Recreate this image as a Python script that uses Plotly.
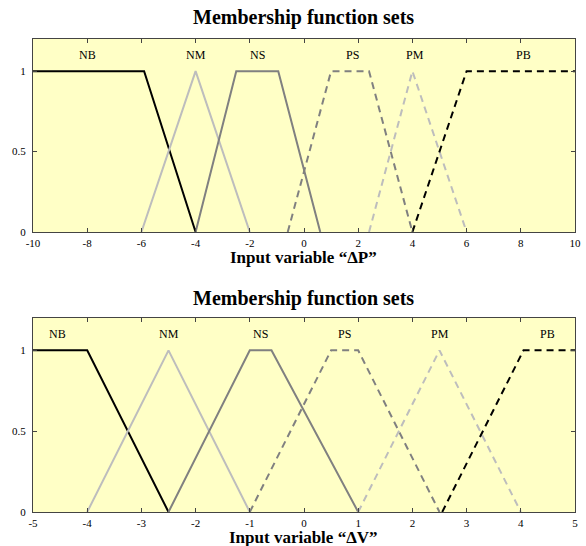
import plotly.graph_objects as go

# Membership functions for input "ΔP" (breakpoints of each set)
dp_names = ["NB", "NM", "NS", "PS", "PM", "PB"]
dp_x = [
    [-10, -5.9, -4],
    [-6, -4, -2],
    [-4, -2.5, -0.95, 0.6],
    [-0.6, 1, 2.4, 4],
    [2.4, 4, 6],
    [4, 6, 10],
]
dp_y = [
    [1, 1, 0],
    [0, 1, 0],
    [0, 1, 1, 0],
    [0, 1, 1, 0],
    [0, 1, 0],
    [0, 1, 1],
]
dp_label_x = [-8, -4, -1.7, 1.8, 4.1, 8.1]

# Membership functions for input "ΔV"
dv_names = ["NB", "NM", "NS", "PS", "PM", "PB"]
dv_x = [
    [-5, -4, -2.5],
    [-4, -2.5, -1],
    [-2.5, -1, -0.6, 1],
    [-1, 0.5, 1, 2.5],
    [1, 2.5, 4],
    [2.55, 4.05, 5],
]
dv_y = [
    [1, 1, 0],
    [0, 1, 0],
    [0, 1, 1, 0],
    [0, 1, 1, 0],
    [0, 1, 0],
    [0, 1, 1],
]
dv_label_x = [-4.55, -2.5, -0.8, 0.75, 2.5, 4.5]

label_y = 1.1
y_ticks = [0, 0.5, 1]
y_ticktext = ["0", "0.5", "1"]
dp_ticks = list(range(-10, 11, 2))
dp_ticktext = [str(v) for v in dp_ticks]
dv_ticks = list(range(-5, 6, 1))
dv_ticktext = [str(v) for v in dv_ticks]

styles = [
    dict(color="#000000", dash="solid"),
    dict(color="#bdbdbd", dash="solid"),
    dict(color="#808080", dash="solid"),
    dict(color="#808080", dash="7px,5px"),
    dict(color="#bdbdbd", dash="7px,5px"),
    dict(color="#000000", dash="7px,5px"),
]

SERIF = "Liberation Serif, Times New Roman, serif"
W, H = 586, 546

fig = go.Figure()

for i in range(6):
    fig.add_trace(go.Scatter(x=dp_x[i], y=dp_y[i], mode="lines",
                             line=dict(width=2, **styles[i]),
                             xaxis="x", yaxis="y", showlegend=False,
                             name=dp_names[i]))
    fig.add_trace(go.Scatter(x=dv_x[i], y=dv_y[i], mode="lines",
                             line=dict(width=2, **styles[i]),
                             xaxis="x2", yaxis="y2", showlegend=False,
                             name=dv_names[i]))

# Pixel geometry of the two plot areas
left, right = 33, 575
top1, bot1 = 39, 232
top2, bot2 = 318, 512


def px_x(p):
    return p / W


def px_y(p):
    return 1 - p / H


axis_common = dict(
    showline=True, linecolor="#444444", linewidth=1, mirror="ticks",
    ticks="inside", ticklen=4, tickcolor="#444444", showgrid=False,
    zeroline=False, automargin=False,
    tickfont=dict(family=SERIF, size=11, color="#000000"),
)
y_extra = dict(ticklabelstandoff=4)
x_extra = dict(ticklabelstandoff=1)

fig.update_layout(
    width=W, height=H,
    margin=dict(l=0, r=0, t=0, b=0, autoexpand=False),
    paper_bgcolor="white",
    plot_bgcolor="#ffffc6",
    xaxis=dict(domain=[px_x(left), px_x(right)], range=[-10, 10],
               tickvals=dp_ticks, ticktext=dp_ticktext, anchor="y",
               **axis_common, **x_extra),
    yaxis=dict(domain=[px_y(bot1), px_y(top1)], range=[0, 1.2],
               tickvals=y_ticks, ticktext=y_ticktext, anchor="x",
               **axis_common, **y_extra),
    xaxis2=dict(domain=[px_x(left), px_x(right)], range=[-5, 5],
                tickvals=dv_ticks, ticktext=dv_ticktext, anchor="y2",
                **axis_common, **x_extra),
    yaxis2=dict(domain=[px_y(bot2), px_y(top2)], range=[0, 1.2],
                tickvals=y_ticks, ticktext=y_ticktext, anchor="x2",
                **axis_common, **y_extra),
)

annotations = []
for name, lx in zip(dp_names, dp_label_x):
    annotations.append(dict(x=lx, y=label_y, xref="x", yref="y", text=name,
                            showarrow=False, xanchor="center", yanchor="middle",
                            font=dict(family=SERIF, size=12, color="#000000")))
for name, lx in zip(dv_names, dv_label_x):
    annotations.append(dict(x=lx, y=label_y, xref="x2", yref="y2", text=name,
                            showarrow=False, xanchor="center", yanchor="middle",
                            font=dict(family=SERIF, size=12, color="#000000")))

cx = px_x((left + right) / 2)
title_font = dict(family=SERIF, size=20, color="#000000")
xtitle_font = dict(family=SERIF, size=17, color="#000000")
for ypix, text, font in [
    (18, "<b>Membership function sets</b>", title_font),
    (257, "<b>Input variable “ΔP”</b>", xtitle_font),
    (298, "<b>Membership function sets</b>", title_font),
    (537, "<b>Input variable “ΔV”</b>", xtitle_font),
]:
    annotations.append(dict(x=cx, y=px_y(ypix), xref="paper", yref="paper",
                            text=text, showarrow=False, xanchor="center",
                            yanchor="middle", font=font))
fig.update_layout(annotations=annotations)

fig.write_html("out.html")
